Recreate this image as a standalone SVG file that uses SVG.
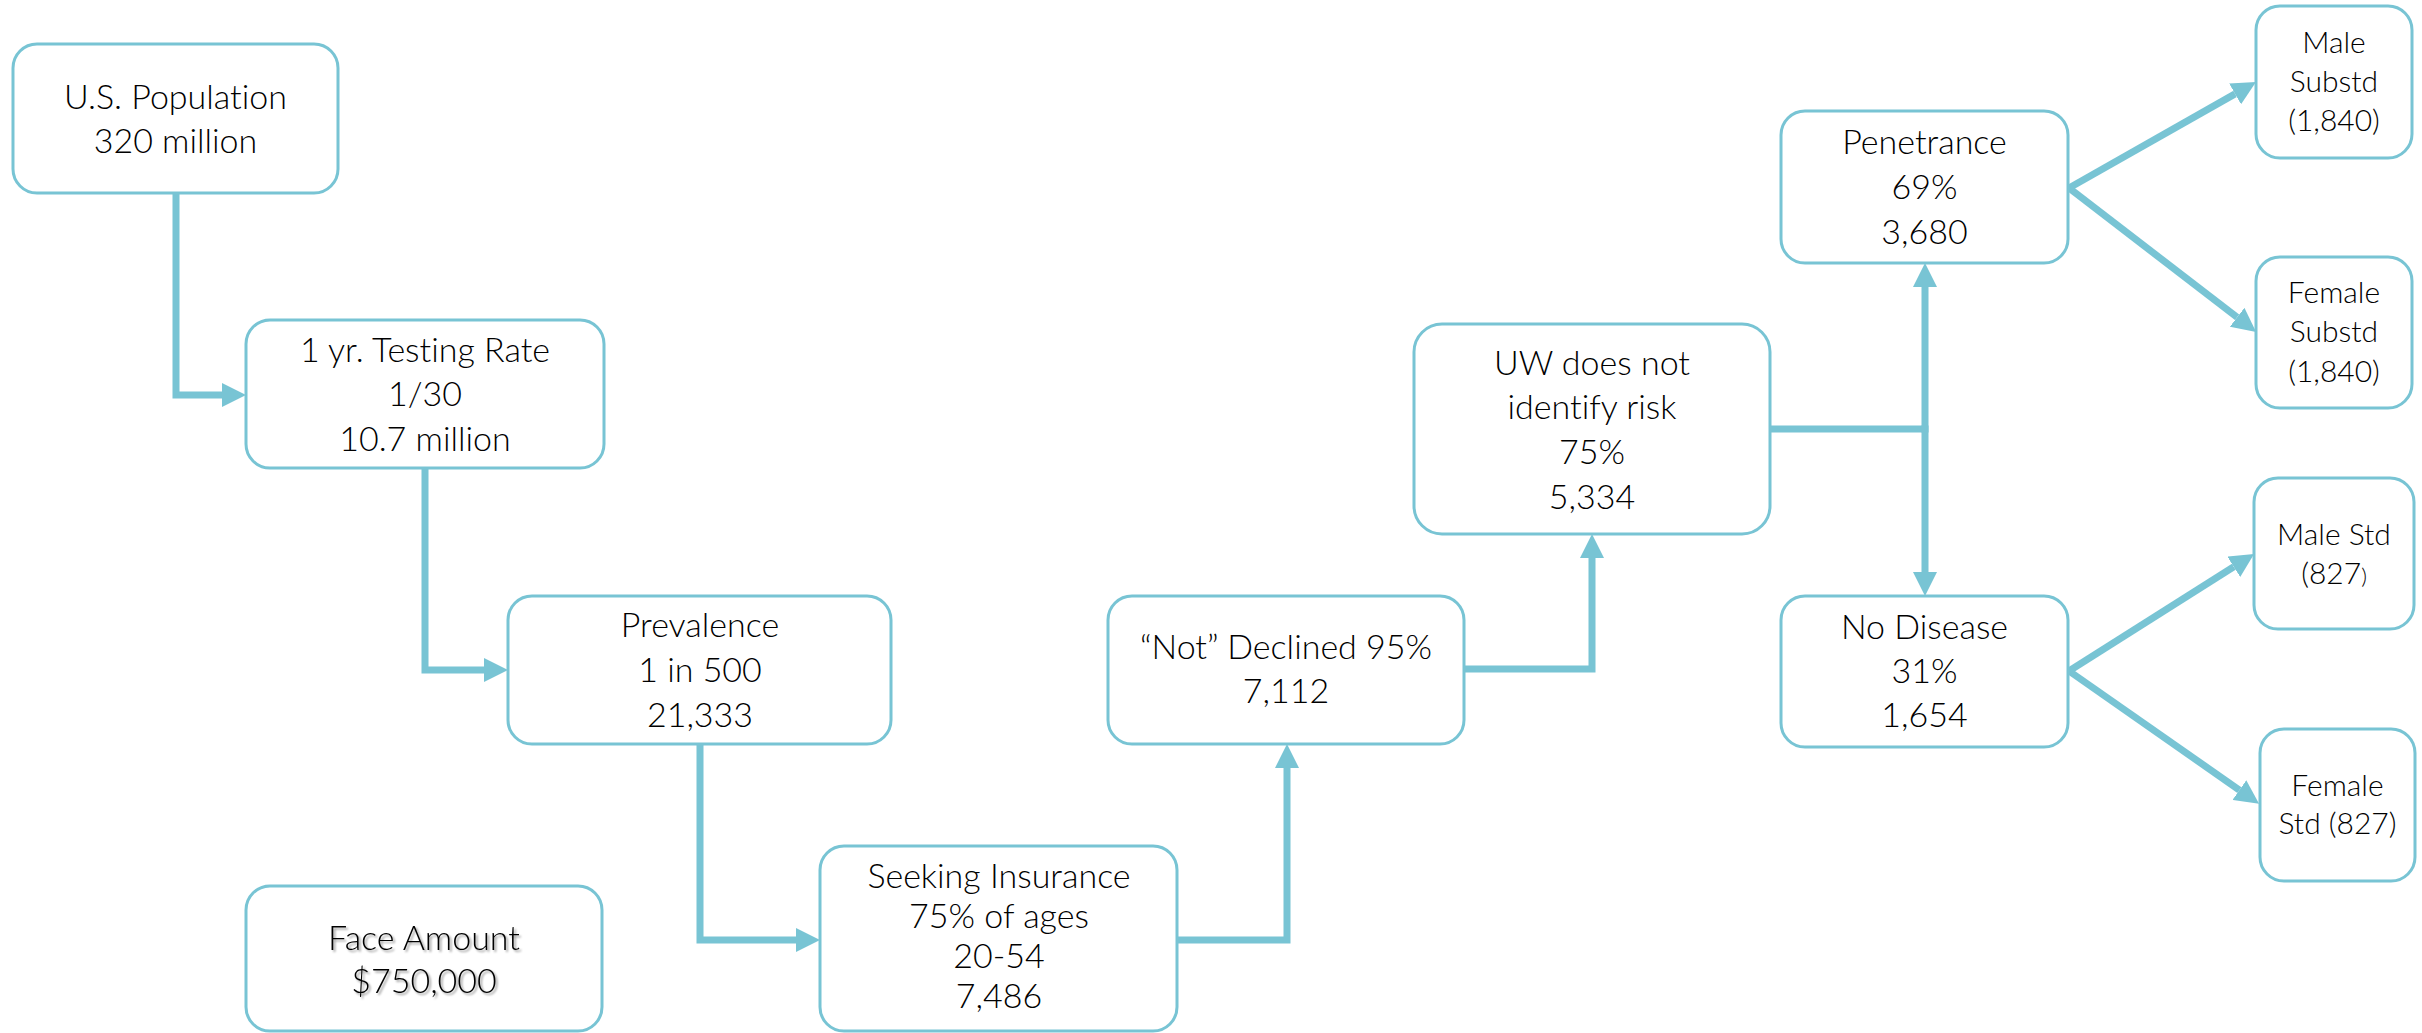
<svg xmlns="http://www.w3.org/2000/svg" width="2422" height="1033" viewBox="0 0 2422 1033">
<style>
.box{fill:#fff;stroke:#78C4D4;stroke-width:3}
.t{font-family:Lato,"Open Sans","Liberation Sans",sans-serif;font-weight:300;font-size:34px;fill:#000;text-anchor:middle;font-variant-ligatures:none}
.s{font-size:30px}
.fa{filter:url(#sh)}
.c{fill:none;stroke:#78C4D4;stroke-width:7;stroke-linejoin:miter;stroke-linecap:butt}
</style>
<defs>
<marker id="ah" markerUnits="userSpaceOnUse" markerWidth="24" markerHeight="24" viewBox="0 0 24 24" refX="0" refY="12" orient="auto">
<path d="M0,0 L24,12 L0,24 z" fill="#78C4D4"/>
</marker>
<filter id="sh" x="-10%" y="-20%" width="120%" height="150%">
<feDropShadow dx="2" dy="2" stdDeviation="1.2" flood-color="#000" flood-opacity="0.4"/>
</filter>
</defs>
<g id="connectors">
<path class="c" d="M176,193 V395 H222" marker-end="url(#ah)"/>
<path class="c" d="M425,468 V670 H484" marker-end="url(#ah)"/>
<path class="c" d="M700,744 V940 H796" marker-end="url(#ah)"/>
<path class="c" d="M1177,940 H1287 V768" marker-end="url(#ah)"/>
<path class="c" d="M1464,669 H1592 V558" marker-end="url(#ah)"/>
<path class="c" d="M1770,429 H1925"/>
<path class="c" d="M1925,432.5 V287" marker-end="url(#ah)"/>
<path class="c" d="M1925,425.5 V572" marker-end="url(#ah)"/>
<path class="c" d="M2069,188 L2235.1,93.9" marker-end="url(#ah)"/>
<path class="c" d="M2069,188 L2237.1,317.3" marker-end="url(#ah)"/>
<path class="c" d="M2069,671 L2233.8,566.8" marker-end="url(#ah)"/>
<path class="c" d="M2069,671 L2239.4,790.1" marker-end="url(#ah)"/>
</g>
<g id="us-population"><rect class="box" x="13" y="44" width="325" height="149" rx="24"/>
<text class="t" x="175.5" y="109">U.S. Population</text><text class="t" x="175.5" y="153">320 million</text></g>
<g id="testing-rate"><rect class="box" x="246" y="320" width="358" height="148" rx="24"/>
<text class="t" x="425" y="362">1 yr. Testing Rate</text><text class="t" x="425" y="406">1/30</text><text class="t" x="425" y="451">10.7 million</text></g>
<g id="prevalence"><rect class="box" x="508" y="596" width="383" height="148" rx="24"/>
<text class="t" x="700" y="637">Prevalence</text><text class="t" x="700" y="682">1 in 500</text><text class="t" x="700" y="727">21,333</text></g>
<g id="seeking-insurance"><rect class="box" x="820" y="846" width="357" height="185" rx="24"/>
<text class="t" x="999" y="888">Seeking Insurance</text><text class="t" x="999" y="928">75% of ages</text><text class="t" x="999" y="968">20-54</text><text class="t" x="999" y="1008">7,486</text></g>
<g id="face-amount"><rect class="box" x="246" y="886" width="356" height="145" rx="24"/>
<text class="t fa" x="424" y="950">Face Amount</text><text class="t fa" x="424" y="993">$750,000</text></g>
<g id="not-declined"><rect class="box" x="1108" y="596" width="356" height="148" rx="24"/>
<text class="t" x="1286" y="659">“Not” Declined 95%</text><text class="t" x="1286" y="703">7,112</text></g>
<g id="uw"><rect class="box" x="1414" y="324" width="356" height="210" rx="28"/>
<text class="t" x="1592" y="375">UW does not</text><text class="t" x="1592" y="419">identify risk</text><text class="t" x="1592" y="464">75%</text><text class="t" x="1592" y="509">5,334</text></g>
<g id="penetrance"><rect class="box" x="1781" y="111" width="287" height="152" rx="24"/>
<text class="t" x="1924.5" y="154">Penetrance</text><text class="t" x="1924.5" y="199">69%</text><text class="t" x="1924.5" y="244">3,680</text></g>
<g id="no-disease"><rect class="box" x="1781" y="596" width="287" height="151" rx="24"/>
<text class="t" x="1924.5" y="639">No Disease</text><text class="t" x="1924.5" y="683">31%</text><text class="t" x="1924.5" y="727">1,654</text></g>
<g id="male-substd"><rect class="box" x="2256" y="6" width="156" height="152" rx="24"/>
<text class="t s" x="2334" y="53">Male</text><text class="t s" x="2334" y="92">Substd</text><text class="t s" x="2334" y="131">(1,840)</text></g>
<g id="female-substd"><rect class="box" x="2256" y="257" width="156" height="151" rx="24"/>
<text class="t s" x="2334" y="303">Female</text><text class="t s" x="2334" y="342">Substd</text><text class="t s" x="2334" y="382">(1,840)</text></g>
<g id="male-std"><rect class="box" x="2254" y="478" width="160" height="151" rx="24"/>
<text class="t s" x="2334" y="545">Male Std</text><text class="t s" x="2334" y="584">(827<tspan font-size="22">)</tspan></text></g>
<g id="female-std"><rect class="box" x="2260" y="729" width="155" height="152" rx="24"/>
<text class="t s" x="2337.5" y="796">Female</text><text class="t s" x="2337.5" y="834">Std (827)</text></g>
</svg>
